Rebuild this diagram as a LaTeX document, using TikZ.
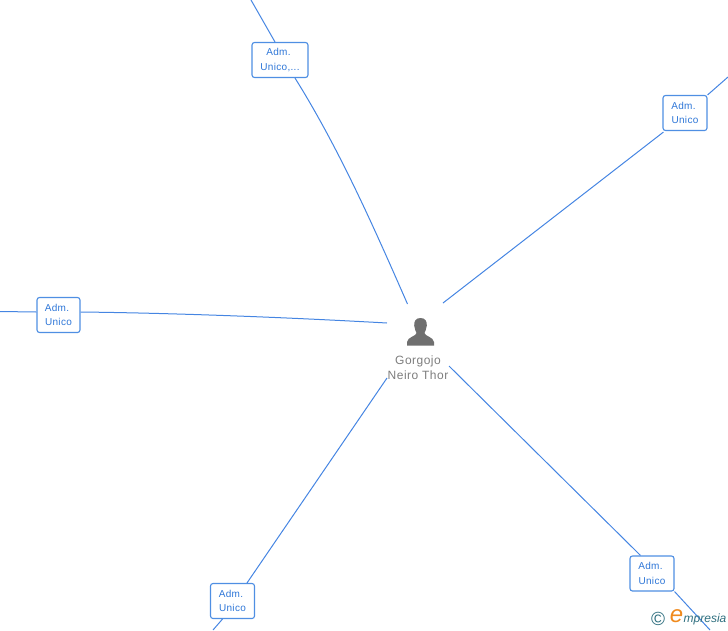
\documentclass[tikz,border=0pt]{standalone}
\usepackage{fontspec}
\setmainfont{Liberation Sans}
\definecolor{linkblue}{HTML}{4585E2}
\definecolor{boxblue}{HTML}{4F8FE3}
\definecolor{txtblue}{HTML}{2F77D8}
\definecolor{persongrey}{HTML}{6F6F6F}
\definecolor{namegrey}{HTML}{7D7D7D}
\definecolor{copyteal}{HTML}{2F6F7F}
\definecolor{logoorange}{HTML}{F08A1D}
\tikzset{
  rolebox/.style={draw=boxblue,line width=1.1pt,rounded corners=2.5pt,fill=white,inner sep=0pt,
    text=txtblue,font=\fontsize{10}{14.5}\selectfont\addfontfeature{LetterSpace=3},align=center},
  link/.style={draw=linkblue,line width=1pt},
}
\begin{document}
\begin{tikzpicture}[x=1pt,y=-1pt]
\useasboundingbox (0,0) rectangle (728,630);
% free ends
\coordinate (ctop) at (407.5,304);
\coordinate (ctr) at (443,303);
\coordinate (cleft) at (387,323);
\coordinate (cbl) at (387,378);
\coordinate (cbr) at (449,366);
\coordinate (etop) at (251,0);
\coordinate (etr) at (728,77);
\coordinate (eleft) at (0,311.5);
\coordinate (ebl) at (213,630);
\coordinate (ebr) at (710,630);
% boxes
\node[rolebox,minimum width=56pt,minimum height=35pt] (b1) at (280,60) {Adm.\kern 3pt\\Unico,...};
\node[rolebox,minimum width=44pt,minimum height=35pt] (b2) at (685,113) {Adm.\kern 3pt\\Unico};
\node[rolebox,minimum width=43pt,minimum height=35pt] (b3) at (58.5,315) {Adm.\kern 3pt\\Unico};
\node[rolebox,minimum width=44pt,minimum height=35pt] (b4) at (232.5,601) {Adm.\kern 3pt\\Unico};
\node[rolebox,minimum width=44pt,minimum height=35pt] (b5) at (652,573.5) {Adm.\kern 3pt\\Unico};
% connectors
\coordinate (b1top) at ([xshift=-5pt]b1.north);
\coordinate (b1bot) at ([xshift=15pt]b1.south);
\coordinate (b2bl) at ([xshift=1pt,yshift=-1pt]b2.south west);
\coordinate (b3e) at ([yshift=3pt]b3.east);
\coordinate (b3w) at ([yshift=3pt]b3.west);
\coordinate (b4top) at ([xshift=14.5pt]b4.north);
\coordinate (b4bot) at ([xshift=-10pt]b4.south);
\coordinate (b5top) at ([xshift=-11.5pt]b5.north);
\draw[link] (ctop) .. controls (375,230) and (340,150) .. (b1bot);
\draw[link] (b1top) -- (etop);
\draw[link] (ctr) -- (b2bl);
\draw[link] (b2.north east) -- (etr);
\draw[link] (cleft) .. controls (280,317) and (170,313) .. (b3e);
\draw[link] (b3w) -- (eleft);
\draw[link] (cbl) -- (b4top);
\draw[link] (b4bot) -- (ebl);
\draw[link] (cbr) -- (b5top);
\draw[link] (b5.south east) -- (ebr);
% person
\node[inner sep=0pt,minimum size=30pt] (person) at (420.5,332) {};
\fill[persongrey] (420.5,318) .. controls (415.5,318) and (414,321.5) .. (414.2,325.5)
  .. controls (414.4,329) and (415.8,331) .. (416.5,333)
  .. controls (416.5,336) and (407.5,337) .. (407,342) -- (407,345.5) -- (434,345.5) -- (434,342)
  .. controls (433.5,337) and (424.5,336) .. (424.5,333)
  .. controls (425.2,331) and (426.6,329) .. (426.8,325.5)
  .. controls (427,321.5) and (425.5,318) .. (420.5,318) -- cycle;
\node[text=namegrey,font=\fontsize{12}{15}\selectfont\addfontfeature{LetterSpace=4},align=center,inner sep=0pt] (name) at (418,367.5) {Gorgojo\\Neiro Thor};
% logo
\node[text=copyteal,font=\fontsize{19}{19}\selectfont,inner sep=0pt] (copy) at (658,619) {©};
\node[text=logoorange,font=\fontsize{24}{24}\selectfont\itshape,inner sep=0pt] (logoe) at (676.5,616.5) {e};
\node[text=copyteal,font=\fontsize{12}{12}\selectfont\itshape,inner sep=0pt] (logot) at (705,619.5) {mpresia};
\end{tikzpicture}
\end{document}
